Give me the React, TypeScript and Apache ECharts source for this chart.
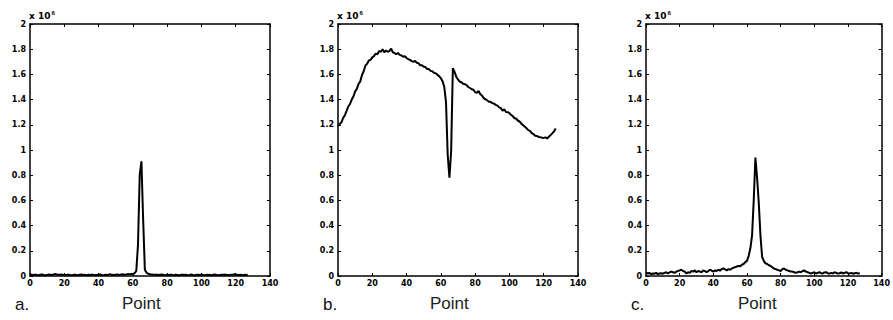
import React, { useEffect, useRef } from "react";
import * as echarts from "echarts";

// Panel a: signal spectrum (values in units of 1e6)
const seriesA = [
  0.012, 0.010, 0.008, 0.011, 0.009, 0.007, 0.010, 0.012, 0.008, 0.006,
  0.009, 0.011, 0.010, 0.008, 0.013, 0.015, 0.011, 0.009, 0.012, 0.010,
  0.008, 0.007, 0.010, 0.009, 0.006, 0.008, 0.011, 0.009, 0.007, 0.010,
  0.012, 0.008, 0.009, 0.006, 0.010, 0.008, 0.011, 0.009, 0.007, 0.008,
  0.010, 0.012, 0.009, 0.007, 0.010, 0.008, 0.011, 0.013, 0.009, 0.008,
  0.010, 0.012, 0.009, 0.011, 0.014, 0.010, 0.012, 0.015, 0.013, 0.016,
  0.016, 0.022, 0.040, 0.250, 0.800, 0.910, 0.450, 0.050, 0.025, 0.018,
  0.014, 0.012, 0.010, 0.009, 0.011, 0.008, 0.010, 0.012, 0.009, 0.007,
  0.010, 0.008, 0.011, 0.009, 0.007, 0.010, 0.008, 0.006, 0.009, 0.011,
  0.008, 0.010, 0.007, 0.009, 0.012, 0.008, 0.006, 0.009, 0.010, 0.008,
  0.011, 0.009, 0.007, 0.010, 0.008, 0.009, 0.006, 0.010, 0.012, 0.009,
  0.007, 0.008, 0.010, 0.009, 0.011, 0.008, 0.007, 0.009, 0.010, 0.013,
  0.011, 0.009, 0.008, 0.010, 0.007, 0.009, 0.008, 0.010,
];

// Panel b
const seriesB = [
  1.19, 1.205, 1.22, 1.255, 1.275, 1.31, 1.345, 1.365, 1.40, 1.425,
  1.465, 1.485, 1.525, 1.545, 1.595, 1.625, 1.67, 1.685, 1.71, 1.715,
  1.735, 1.745, 1.765, 1.76, 1.785, 1.78, 1.80, 1.775, 1.79, 1.78,
  1.785, 1.805, 1.775, 1.77, 1.76, 1.77, 1.755, 1.75, 1.74, 1.745,
  1.73, 1.72, 1.715, 1.705, 1.70, 1.708, 1.692, 1.688, 1.672, 1.672,
  1.66, 1.658, 1.642, 1.642, 1.628, 1.625, 1.612, 1.61, 1.598, 1.585,
  1.57, 1.545, 1.50, 1.38, 0.96, 0.78, 0.99, 1.65, 1.62, 1.58,
  1.56, 1.542, 1.538, 1.526, 1.522, 1.515, 1.50, 1.492, 1.482, 1.478,
  1.458, 1.455, 1.468, 1.442, 1.432, 1.412, 1.402, 1.395, 1.382, 1.382,
  1.372, 1.368, 1.358, 1.352, 1.338, 1.332, 1.312, 1.322, 1.302, 1.30,
  1.292, 1.278, 1.268, 1.252, 1.248, 1.232, 1.226, 1.208, 1.196, 1.184,
  1.172, 1.158, 1.152, 1.134, 1.126, 1.114, 1.112, 1.104, 1.102, 1.098,
  1.096, 1.1, 1.092, 1.105, 1.118, 1.132, 1.148, 1.17,
];

// Panel c
const seriesC = [
  0.030, 0.020, 0.025, 0.015, 0.020, 0.018, 0.025, 0.015, 0.020, 0.022,
  0.018, 0.025, 0.030, 0.020, 0.028, 0.035, 0.030, 0.025, 0.035, 0.040,
  0.045, 0.050, 0.040, 0.035, 0.020, 0.030, 0.025, 0.040, 0.035, 0.045,
  0.030, 0.040, 0.035, 0.030, 0.045, 0.038, 0.030, 0.040, 0.050, 0.042,
  0.035, 0.045, 0.040, 0.050, 0.042, 0.055, 0.060, 0.052, 0.045, 0.055,
  0.050, 0.060, 0.065, 0.070, 0.075, 0.080, 0.078, 0.090, 0.095, 0.110,
  0.120, 0.160, 0.220, 0.320, 0.600, 0.940, 0.780, 0.580, 0.320, 0.150,
  0.120, 0.100, 0.095, 0.085, 0.080, 0.070, 0.060, 0.055, 0.050, 0.045,
  0.040, 0.055, 0.060, 0.050, 0.045, 0.040, 0.035, 0.035, 0.030, 0.025,
  0.030, 0.035, 0.030, 0.040, 0.045, 0.035, 0.030, 0.025, 0.020, 0.025,
  0.030, 0.020, 0.025, 0.030, 0.022, 0.020, 0.028, 0.030, 0.022, 0.018,
  0.025, 0.020, 0.030, 0.025, 0.020, 0.022, 0.028, 0.020, 0.025, 0.030,
  0.022, 0.020, 0.025, 0.018, 0.022, 0.025, 0.020, 0.022,
];

const panelSeries = [seriesA, seriesB, seriesC];
const panelLetters = ["a.", "b.", "c."];
const xAxisName = "Point";
const xMin = 0, xMax = 140, xStep = 20;
const yMin = 0, yMax = 2, yStep = 0.2;

const gridLefts = [30, 338, 646];
const gridTop = 24;
const gridW = 240;
const gridH = 252;

const tickFont = { fontSize: 8, fontFamily: "DejaVu Sans", fontWeight: "bold" as const, color: "#000" };

export default function App() {
  const ref = useRef<HTMLDivElement>(null);
  useEffect(() => {
    if (!ref.current) return;
    const chart = echarts.init(ref.current, undefined, { renderer: "svg" });
    const grid: any[] = [];
    const xAxis: any[] = [];
    const yAxis: any[] = [];
    const series: any[] = [];
    const graphic: any[] = [];
    const lineCommon = { lineStyle: { color: "#000", width: 1.5 } };
    panelSeries.forEach((vals, i) => {
      grid.push({ left: gridLefts[i], top: gridTop, width: gridW, height: gridH });
      xAxis.push({
        type: "value", gridIndex: i, position: "bottom", min: xMin, max: xMax, interval: xStep,
        axisLine: { show: true, onZero: false, ...lineCommon },
        axisTick: { inside: true, length: 3, lineStyle: { color: "#000", width: 1 } },
        axisLabel: { ...tickFont, margin: 3, showMaxLabel: true, showMinLabel: true, hideOverlap: false },
        splitLine: { show: false },
      });
      xAxis.push({
        type: "value", gridIndex: i, position: "top", min: xMin, max: xMax, interval: xStep,
        axisLine: { show: true, onZero: false, ...lineCommon },
        axisTick: { inside: true, length: 3, lineStyle: { color: "#000", width: 1 } },
        axisLabel: { show: false },
        splitLine: { show: false },
      });
      yAxis.push({
        type: "value", gridIndex: i, position: "left", min: yMin, max: yMax, interval: yStep,
        axisLine: { show: true, onZero: false, ...lineCommon },
        axisTick: { inside: true, length: 3, lineStyle: { color: "#000", width: 1 } },
        axisLabel: {
          ...tickFont, margin: 4, showMaxLabel: true, showMinLabel: true,
          formatter: (v: number) => String(parseFloat(v.toFixed(1))),
        },
        splitLine: { show: false },
      });
      yAxis.push({
        type: "value", gridIndex: i, position: "right", min: yMin, max: yMax, interval: yStep,
        axisLine: { show: true, onZero: false, ...lineCommon },
        axisTick: { inside: true, length: 3, lineStyle: { color: "#000", width: 1 } },
        axisLabel: { show: false },
        splitLine: { show: false },
      });
      series.push({
        type: "line",
        xAxisIndex: i * 2,
        yAxisIndex: i * 2,
        data: vals.map((v, k) => [k, v]),
        showSymbol: false,
        symbol: "none",
        lineStyle: { color: "#000", width: 2 },
      });
      const left = gridLefts[i];
      graphic.push({
        type: "text", left: left - 1, top: 10,
        style: {
          text: "x 10{s|6}",
          font: "bold 9px DejaVu Sans",
          fill: "#000",
          rich: { s: { fontSize: 6, fontWeight: "bold", verticalAlign: "top", padding: [0, 0, 6, 1] } },
        },
      });
      graphic.push({
        type: "text", left: left - 15, top: 296,
        style: { text: panelLetters[i], font: "17px Liberation Sans", fill: "#111" },
      });
      graphic.push({
        type: "text", left: left + 92, top: 295,
        style: { text: xAxisName, font: "17px Liberation Sans", fill: "#222" },
      });
    });
    chart.setOption({
      animation: false,
      backgroundColor: "#fff",
      grid, xAxis, yAxis, series, graphic,
    });
    return () => chart.dispose();
  }, []);
  return (
    <div
      ref={ref}
      style={{ position: "fixed", left: 0, top: 0, width: 893, height: 320, background: "#fff" }}
    />
  );
}
